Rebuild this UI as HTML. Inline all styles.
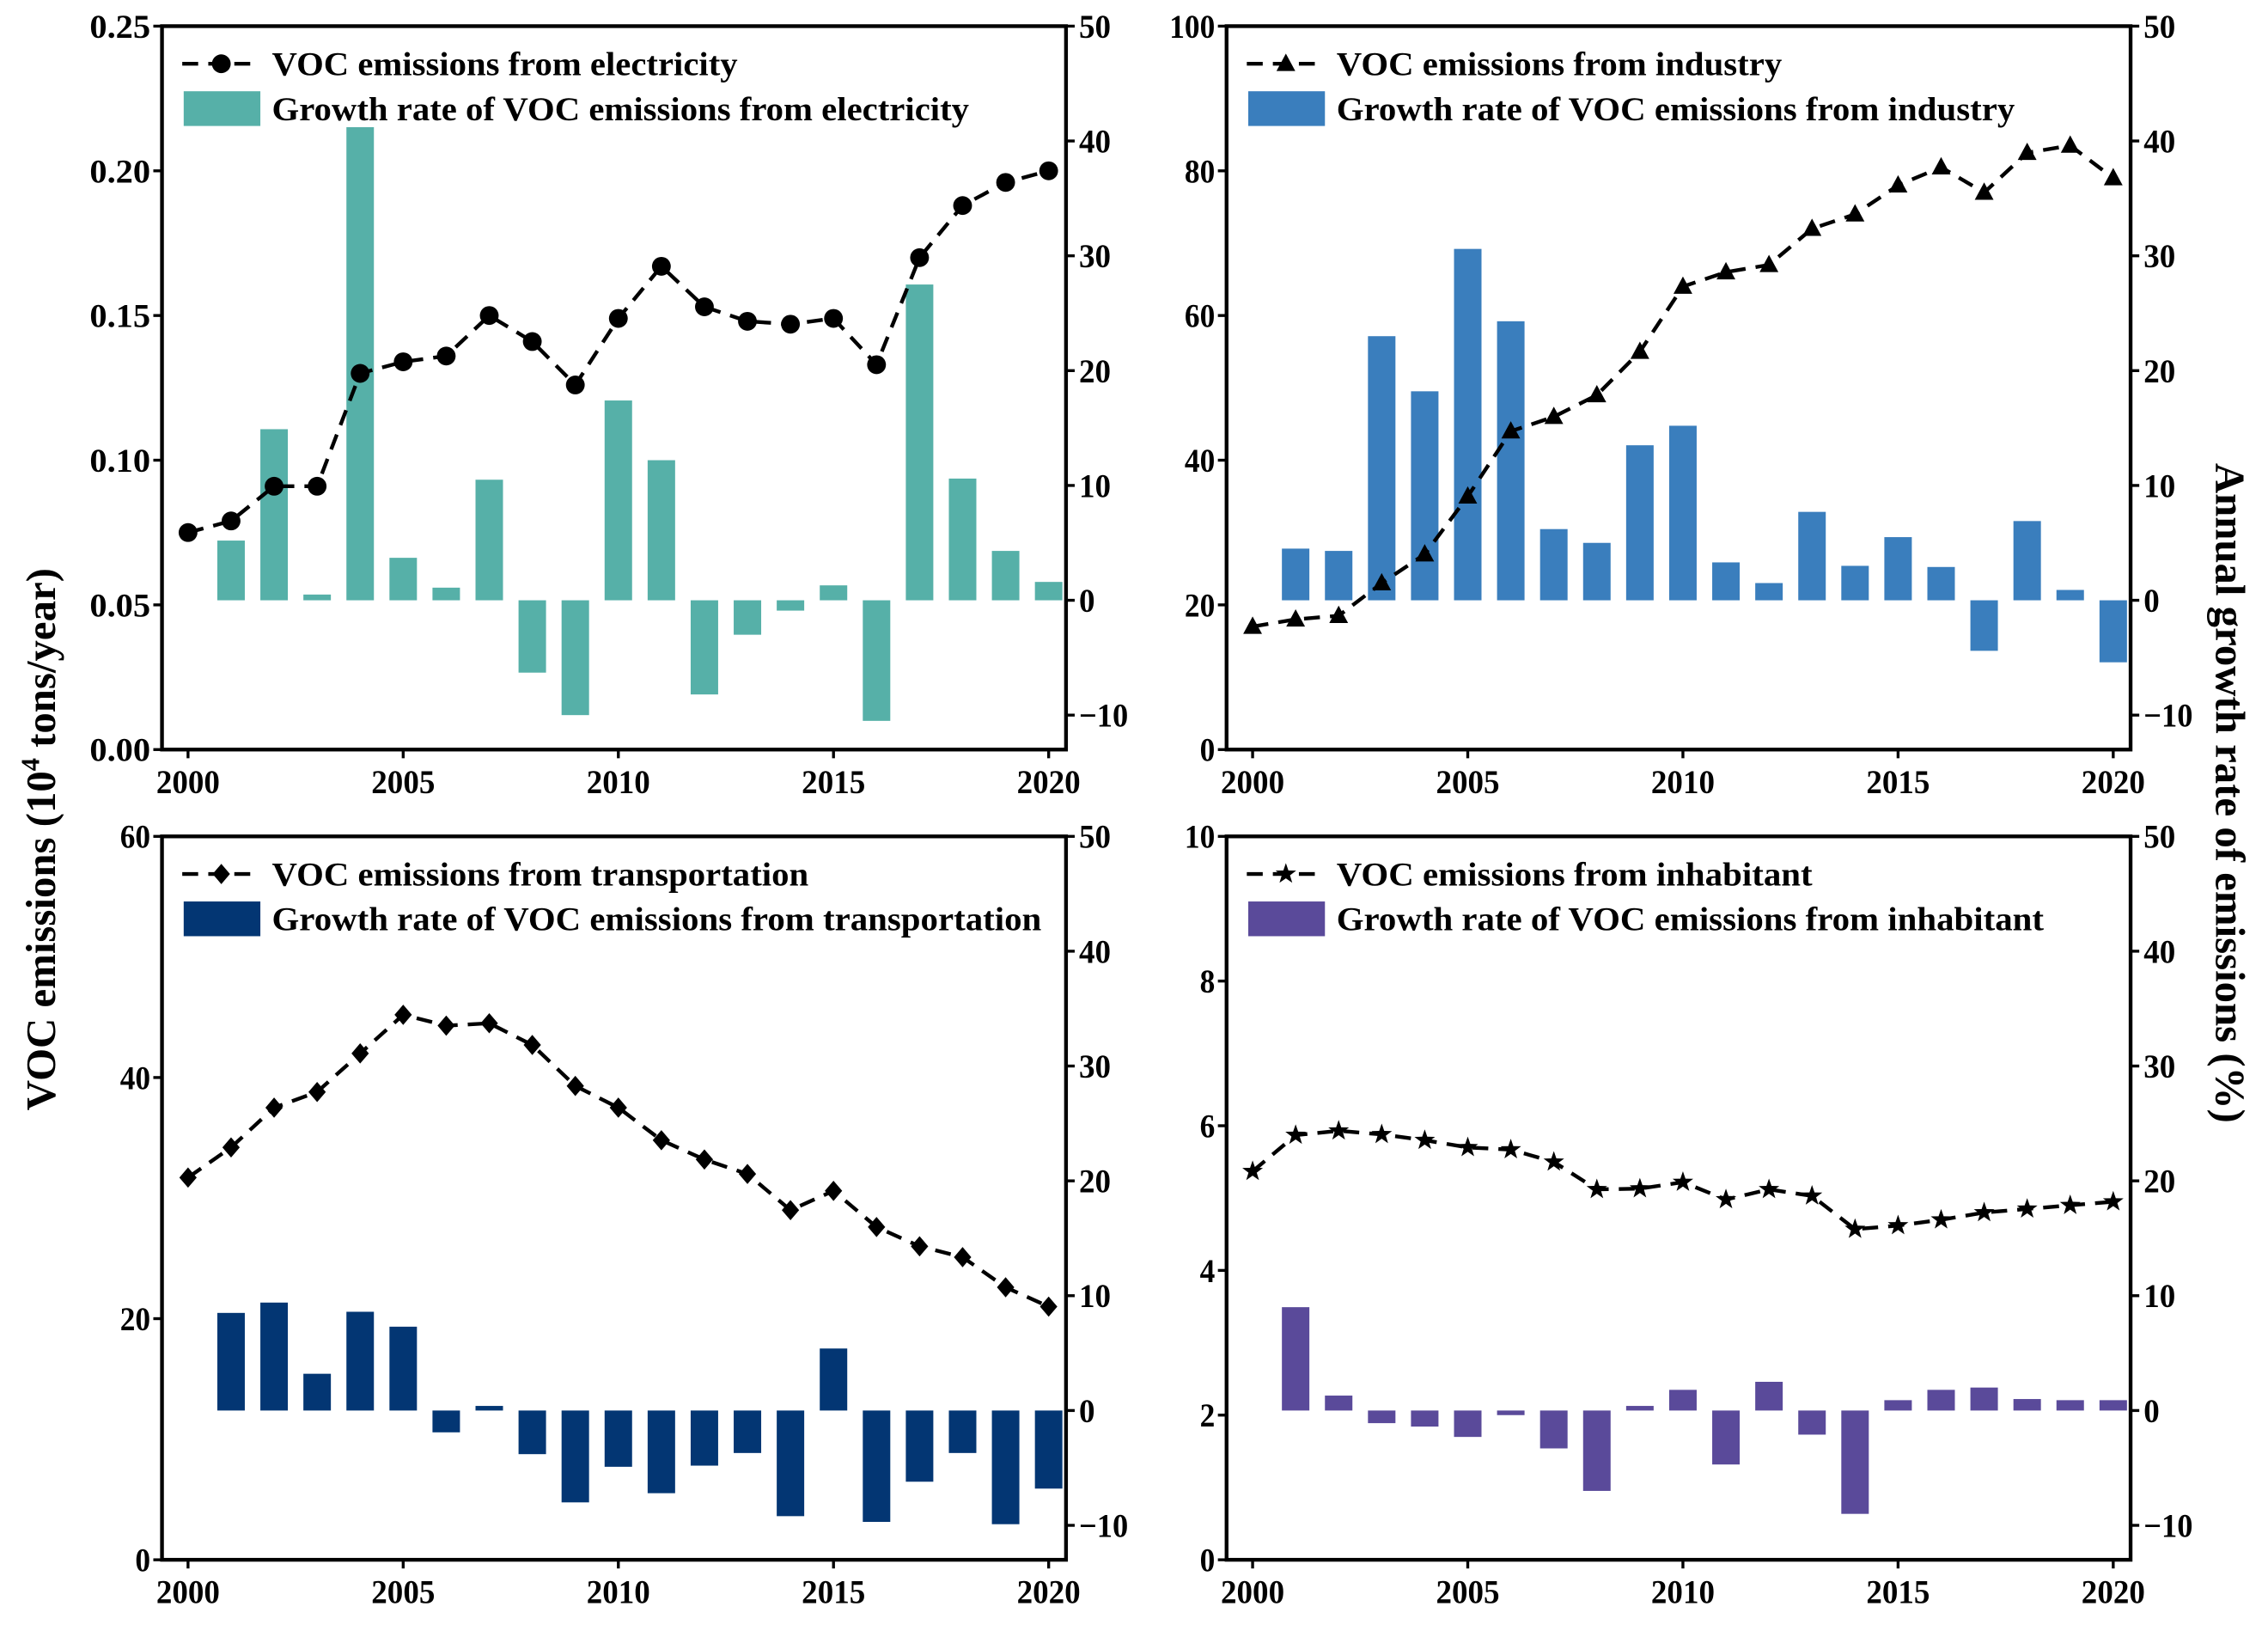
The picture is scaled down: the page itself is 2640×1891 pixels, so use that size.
<!DOCTYPE html>
<html><head><meta charset="utf-8"><style>html,body{margin:0;padding:0;background:#fff}svg{display:block}
svg text{font-family:"Liberation Serif","Times New Roman",serif;font-weight:bold}</style></head>
<body>
<svg id="chart" xmlns="http://www.w3.org/2000/svg" width="2640" height="1891" viewBox="0 0 1568 1123">
<text transform="translate(38,580) rotate(-90)" text-anchor="middle" font-size="29">VOC emissions (10<tspan font-size="18" dy="-11">4</tspan><tspan dy="11"> tons/year)</tspan></text>
<text transform="translate(1532,548) rotate(90)" text-anchor="middle" font-size="29">Annual growth rate of emissions (%)</text>
</svg>
<script>
const years = [2000,2001,2002,2003,2004,2005,2006,2007,2008,2009,2010,2011,2012,2013,2014,2015,2016,2017,2018,2019,2020];
const elecLine = [0.075,0.079,0.091,0.091,0.130,0.134,0.136,0.150,0.141,0.126,0.149,0.167,0.153,0.148,0.147,0.149,0.133,0.170,0.188,0.196,0.200];
const elecBars = [5.2,14.9,0.5,41.2,3.7,1.1,10.5,-6.3,-10,17.4,12.2,-8.2,-3,-0.9,1.3,-10.5,27.5,10.6,4.3,1.6];
const indLine = [17,18,18.5,23,27,35,44,46,49,55,64,66,67,72,74,78,80.5,77,82.5,83.5,79];
const indBars = [4.5,4.3,23,18.2,30.6,24.3,6.2,5,13.5,15.2,3.3,1.5,7.7,3,5.5,2.9,-4.4,6.9,0.9,-5.4];
const traLine = [31.7,34.2,37.5,38.8,42,45.2,44.3,44.5,42.7,39.3,37.5,34.8,33.2,32,29,30.6,27.6,26,25.1,22.6,21];
const traBars = [8.5,9.4,3.2,8.6,7.3,-1.9,0.4,-3.8,-8,-4.9,-7.2,-4.8,-3.7,-9.2,5.4,-9.7,-6.2,-3.7,-9.9,-6.8];
const inhLine = [5.37,5.87,5.93,5.88,5.8,5.7,5.67,5.5,5.12,5.13,5.22,4.98,5.12,5.03,4.57,4.62,4.7,4.8,4.85,4.9,4.95];
const inhBars = [9,1.3,-1.1,-1.4,-2.3,-0.4,-3.3,-7,0.4,1.8,-4.7,2.5,-2.1,-9,0.9,1.8,2,1,0.9,0.9];
const xTicks = [2000,2005,2010,2015,2020];
const rightTicks = [-10,0,10,20,30,40,50];
const elecTicks = ["0.00","0.05","0.10","0.15","0.20","0.25"];
const indTicks = ["0","20","40","60","80","100"];
const traTicks = ["0","20","40","60"];
const inhTicks = ["0","2","4","6","8","10"];

const NS = "http://www.w3.org/2000/svg";
const svg = document.getElementById('chart');
function mk(tag, attrs, parent){const e=document.createElementNS(NS,tag);for(const k in attrs)e.setAttribute(k,attrs[k]);(parent||svg).appendChild(e);return e;}

function marker(g, kind, x, y){
  let e;
  if(kind==='circle'){e=mk('circle',{cx:x,cy:y,r:6.5,fill:'#000'},g);}
  else if(kind==='triangle'){e=mk('polygon',{points:`${x},${y-7} ${x-6.5},${y+5} ${x+6.5},${y+5}`,fill:'#000'},g);}
  else if(kind==='diamond'){e=mk('polygon',{points:`${x},${y-7} ${x+6},${y} ${x},${y+7} ${x-6},${y}`,fill:'#000'},g);}
  else {let p=[];for(let i=0;i<10;i++){const r=i%2?3:7.5;const a=-Math.PI/2+i*Math.PI/5;p.push((x+r*Math.cos(a)).toFixed(2)+','+(y+r*Math.sin(a)).toFixed(2));}e=mk('polygon',{points:p.join(' '),fill:'#000'},g);}
  return e;
}

function panel(o){
  const L=o.left,R=o.left+625,T=o.top,B=o.top+500;
  const xs=v=>L+18+(v-2000)*(R-12-(L+18))/20;
  const yl=v=>B-(v-o.lmin)/(o.lmax-o.lmin)*(B-T);
  const yr=v=>B-(v-(-13))/63*(B-T);
  const g=mk('g',{});
  
  
  o.bars.forEach((v,i)=>{
    const x=xs(years[i+1]);
    const r=mk('rect',{x:x-9.5,y:Math.min(yr(v),yr(0)),width:19,height:Math.max(1.5,Math.abs(yr(v)-yr(0))),fill:o.color},g);
    
    
  });
  const pts=o.line.map((v,i)=>xs(years[i]).toFixed(2)+','+yl(v).toFixed(2)).join(' ');
  const pl=mk('polyline',{points:pts,fill:'none',stroke:'#000','stroke-width':2.6,'stroke-dasharray':'11,7'},g);
  
  
  o.line.forEach((v,i)=>{const m=marker(g,o.marker,xs(years[i]),yl(v));
    
    });
  const f=mk('rect',{x:L,y:T,width:R-L,height:B-T,fill:'none',stroke:'#000','stroke-width':2.6},g);
  
  
  xTicks.forEach(t=>{const x=xs(t);mk('line',{x1:x,y1:B,x2:x,y2:B+6,stroke:'#000','stroke-width':2},g);
    const tx=mk('text',{x:x,y:B+30,'text-anchor':'middle','font-size':23,textLength:44,lengthAdjust:'spacingAndGlyphs'},g);tx.textContent=t;
    
    });
  o.lticks.forEach(t=>{const y=yl(parseFloat(t));mk('line',{x1:L-6,y1:y,x2:L,y2:y,stroke:'#000','stroke-width':2},g);
    const tx=mk('text',{x:L-8,y:y+8,'text-anchor':'end','font-size':23,textLength:t.length*10.5,lengthAdjust:'spacingAndGlyphs'},g);tx.textContent=t;
    
    });
  rightTicks.forEach(t=>{const y=yr(t);mk('line',{x1:R,y1:y,x2:R+6,y2:y,stroke:'#000','stroke-width':2},g);
    const s=(t<0?'\u221210':String(t));
    const tx=mk('text',{x:R+9,y:y+8,'text-anchor':'start','font-size':23,textLength:(t<0?34:(t===0?11:22)),lengthAdjust:'spacingAndGlyphs'},g);tx.textContent=s;
    
    });
  const lg=mk('g',{},g);
  
  
  const ly=T+26;
  mk('line',{x1:L+14,y1:ly,x2:L+68,y2:ly,stroke:'#000','stroke-width':2.6,'stroke-dasharray':'11,7'},lg);
  marker(lg,o.marker,L+41,ly);
  const t1=mk('text',{x:L+76,y:ly+8,'font-size':23,textLength:o.w1,lengthAdjust:'spacingAndGlyphs'},lg);t1.textContent=o.label1;
  
  
  mk('rect',{x:L+15,y:T+45,width:53,height:24,fill:o.color},lg);
  const t2=mk('text',{x:L+76,y:ly+39,'font-size':23,textLength:o.w2,lengthAdjust:'spacingAndGlyphs'},lg);t2.textContent=o.label2;
  
  
}

panel({name:'electricity',left:112,top:18,lmin:0,lmax:0.25,lticks:elecTicks,line:elecLine,bars:elecBars,color:'#56B0A8',marker:'circle',
  label1:'VOC emissions from electricity',label2:'Growth rate of VOC emissions from electricity',w1:322,w2:482});
panel({name:'industry',left:848,top:18,lmin:0,lmax:100,lticks:indTicks,line:indLine,bars:indBars,color:'#3A7EBD',marker:'triangle',
  label1:'VOC emissions from industry',label2:'Growth rate of VOC emissions from industry',w1:308,w2:469});
panel({name:'transportation',left:112,top:578,lmin:0,lmax:60,lticks:traTicks,line:traLine,bars:traBars,color:'#033673',marker:'diamond',
  label1:'VOC emissions from transportation',label2:'Growth rate of VOC emissions from transportation',w1:371,w2:532});
panel({name:'inhabitant',left:848,top:578,lmin:0,lmax:10,lticks:inhTicks,line:inhLine,bars:inhBars,color:'#5A4A9A',marker:'star',
  label1:'VOC emissions from inhabitant',label2:'Growth rate of VOC emissions from inhabitant',w1:329,w2:489});
</script>
</body></html>
